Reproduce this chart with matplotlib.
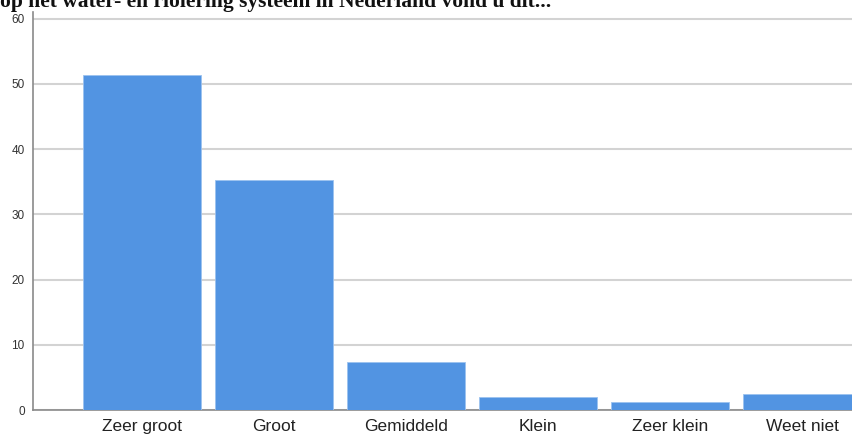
import matplotlib
matplotlib.use('Agg')
import matplotlib.pyplot as plt
import numpy as np

categories = ['Zeer groot', 'Groot', 'Gemiddeld', 'Klein', 'Zeer klein', 'Weet niet']
percentages = [51.4, 35.2, 7.4, 2.0, 1.2, 2.4]
y_ticks = [0, 10, 20, 30, 40, 50, 60]
title_text = 'op het water- en riolering systeem in Nederland vond u dit...'

fig = plt.figure(figsize=(8.52, 4.36), dpi=100)
ax = fig.add_axes([33/852, 1 - 410/436, 1 - 33/852, (410 - 12)/436])

x = np.arange(len(categories))
ax.bar(x, percentages, width=0.894, color='#5294e2', edgecolor='#9cc2ef',
       linewidth=0.6, zorder=3)

ax.set_xlim(-0.826, 5.379)
ax.set_ylim(0, 61)
ax.set_yticks(y_ticks)
ax.set_yticklabels([str(v) for v in y_ticks], fontsize=8.5, color='#333333',
                   family='Liberation Sans')
ax.set_xticks(x)
ax.set_xticklabels(categories, fontsize=12.5, color='#222222', family='Liberation Sans')
ax.tick_params(axis='both', length=0)
ax.tick_params(axis='x', pad=6.5)
ax.tick_params(axis='y', pad=6)
ax.yaxis.grid(True, color='#d3d3d3', linewidth=1.5, zorder=0)
ax.set_axisbelow(True)
for s in ['top', 'right']:
    ax.spines[s].set_visible(False)
ax.spines['left'].set_color('#8a8a8a')
ax.spines['bottom'].set_color('#8a8a8a')
ax.spines['left'].set_linewidth(1.2)
ax.spines['bottom'].set_linewidth(1.2)

# title sits partly above the picture, as in the source screenshot
fig.text(0.0, 1 - 7/436, title_text, fontsize=15.5, fontweight='bold',
         family='Liberation Serif', va='baseline', ha='left', color='#111111')

fig.savefig('out.png', dpi=100)
